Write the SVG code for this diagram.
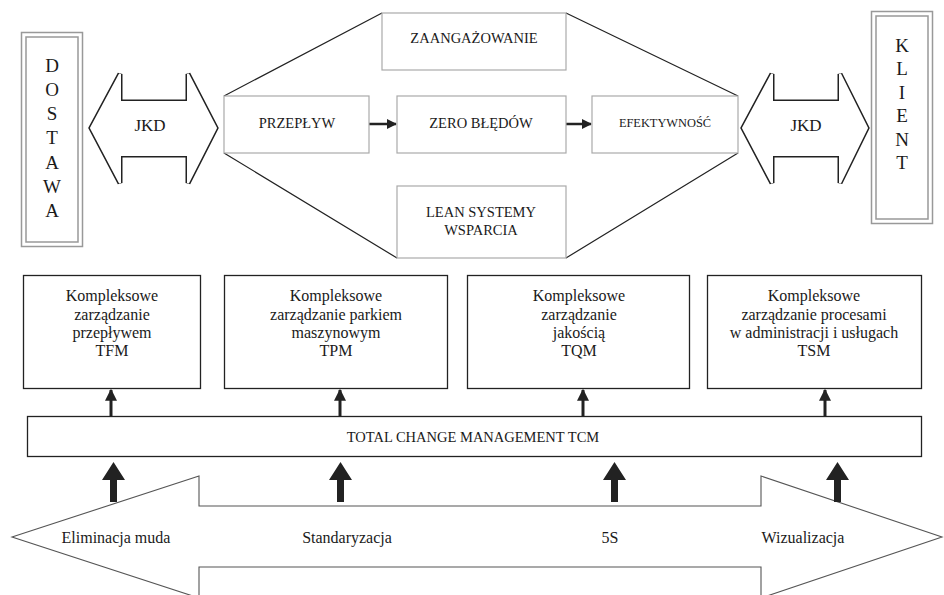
<svg xmlns="http://www.w3.org/2000/svg" width="944" height="595" viewBox="0 0 944 595" font-family="'Liberation Serif','Times New Roman',serif">
<defs>
<style>
text{font-family:"Liberation Serif","Times New Roman",serif;fill:#1a1a1a;text-anchor:middle;dominant-baseline:central}
.gb{fill:#fff;stroke:#aaa;stroke-width:1.2}
.bb{fill:#fff;stroke:#222;stroke-width:1.3}
.hex{fill:none;stroke:#222;stroke-width:1.2}
.dbl1{fill:none;stroke:#222;stroke-width:5;stroke-linejoin:miter}
.dbl2{fill:#fff;stroke:#fff;stroke-width:2;stroke-linejoin:miter}
.frame{fill:#fff;stroke:#999;stroke-width:1.5}
.big{fill:#fff;stroke:#555;stroke-width:1.1}
.cap{font-size:14.5px}
.lt{font-size:19px}
.bt{font-size:16px}
</style>
<marker id="ah" viewBox="0 0 10 10" refX="9" refY="5" markerWidth="4" markerHeight="4" orient="auto"><path d="M0,0 L10,5 L0,10 z" fill="#222"/></marker>
</defs>

<g id="dostawa">
<rect class="frame" x="21.5" y="32.5" width="61" height="214"/>
<rect class="frame" x="26" y="37" width="52" height="205"/>
<text class="lt" x="52" y="65">D</text>
<text class="lt" x="52" y="89">O</text>
<text class="lt" x="52" y="113">S</text>
<text class="lt" x="52" y="137">T</text>
<text class="lt" x="52" y="162">A</text>
<text class="lt" x="52" y="186">W</text>
<text class="lt" x="52" y="210">A</text>
</g>

<g id="klient">
<rect class="frame" x="871.5" y="11.5" width="61" height="212"/>
<rect class="frame" x="876" y="16" width="52" height="203"/>
<text class="lt" x="902" y="45">K</text>
<text class="lt" x="902" y="68.5">L</text>
<text class="lt" x="902" y="92">I</text>
<text class="lt" x="902" y="115.5">E</text>
<text class="lt" x="902" y="139">N</text>
<text class="lt" x="902" y="162.5">T</text>
</g>

<g id="jkd-left">
<path class="dbl1" d="M91,128 L120,74 L120,102 L188,102 L188,74 L216,128 L188,183 L188,155 L120,155 L120,183 Z"/>
<path class="dbl2" d="M91,128 L120,74 L120,102 L188,102 L188,74 L216,128 L188,183 L188,155 L120,155 L120,183 Z"/>
<text x="150" y="125" font-size="17">JKD</text>
</g>

<g id="jkd-right">
<path class="dbl1" d="M743,128 L772,74 L772,102 L840,102 L840,74 L867,128 L840,183 L840,155 L772,155 L772,183 Z"/>
<path class="dbl2" d="M743,128 L772,74 L772,102 L840,102 L840,74 L867,128 L840,183 L840,155 L772,155 L772,183 Z"/>
<text x="806" y="125" font-size="17">JKD</text>
</g>

<g id="connectors">
<path class="hex" d="M224,96 L382,13 M224,153 L397,258 M566,13 L738,96 M738,153 L566,258"/>
<line x1="369" y1="124" x2="396" y2="124" stroke="#222" stroke-width="2.5" marker-end="url(#ah)"/>
<line x1="566" y1="124" x2="591" y2="124" stroke="#222" stroke-width="2.5" marker-end="url(#ah)"/>
<g stroke="#222" stroke-width="3" marker-end="url(#ah)">
<line x1="111" y1="416" x2="111" y2="390"/>
<line x1="340" y1="416" x2="340" y2="390"/>
<line x1="583" y1="416" x2="583" y2="390"/>
<line x1="825" y1="416" x2="825" y2="390"/>
</g>
</g>

<g id="zaangazowanie">
<rect class="gb" x="382" y="13" width="184" height="57"/>
<text class="cap" x="474" y="38">ZAANGAŻOWANIE</text>
</g>
<g id="przeplyw">
<rect class="gb" x="224" y="96" width="145" height="57"/>
<text class="cap" x="297" y="123">PRZEPŁYW</text>
</g>
<g id="zero-bledow">
<rect class="gb" x="397" y="96" width="169" height="57"/>
<text class="cap" x="481" y="123">ZERO BŁĘDÓW</text>
</g>
<g id="efektywnosc">
<rect class="gb" x="592" y="96" width="146" height="57"/>
<text x="665" y="123" font-size="12.4">EFEKTYWNOŚĆ</text>
</g>
<g id="lean">
<rect class="gb" x="397" y="186" width="169" height="72"/>
<text class="cap" x="481" y="212">LEAN SYSTEMY</text>
<text class="cap" x="481" y="230">WSPARCIA</text>
</g>

<g id="tfm">
<rect class="bb" x="23.5" y="275.5" width="177" height="113"/>
<text class="bt" x="112" y="295">Kompleksowe</text>
<text class="bt" x="112" y="314">zarządzanie</text>
<text class="bt" x="112" y="332">przepływem</text>
<text class="bt" x="112" y="350">TFM</text>
</g>
<g id="tpm">
<rect class="bb" x="224.5" y="275.5" width="223" height="113"/>
<text class="bt" x="336" y="295">Kompleksowe</text>
<text class="bt" x="336" y="314">zarządzanie parkiem</text>
<text class="bt" x="336" y="332">maszynowym</text>
<text class="bt" x="336" y="350">TPM</text>
</g>
<g id="tqm">
<rect class="bb" x="467.5" y="275.5" width="222" height="113"/>
<text class="bt" x="579" y="295">Kompleksowe</text>
<text class="bt" x="579" y="314">zarządzanie</text>
<text class="bt" x="579" y="332">jakością</text>
<text class="bt" x="579" y="350">TQM</text>
</g>
<g id="tsm">
<rect class="bb" x="707.5" y="275.5" width="214" height="113"/>
<text class="bt" x="814" y="295">Kompleksowe</text>
<text class="bt" x="814" y="314">zarządzanie procesami</text>
<text class="bt" x="814" y="332">w administracji i usługach</text>
<text class="bt" x="814" y="350">TSM</text>
</g>

<g id="tcm">
<rect class="bb" x="27.5" y="416.5" width="894" height="40"/>
<text x="473" y="437" font-size="14.5">TOTAL CHANGE MANAGEMENT TCM</text>
</g>

<g id="base-arrow">
<path class="big" d="M12,537 L199,476 L199,506 L761,506 L761,476 L942,537 L761,598 L761,567 L199,567 L199,598 Z"/>
<text class="bt" x="116" y="537">Eliminacja muda</text>
<text class="bt" x="347" y="537">Standaryzacja</text>
<text class="bt" x="610" y="537">5S</text>
<text class="bt" x="803" y="537">Wizualizacja</text>
</g>

<g id="up-arrows" fill="#222">
<path d="M110,502 L110,480 L102,480 L113.5,462 L125,480 L117,480 L117,502 Z"/>
<path d="M337,502 L337,480 L329,480 L340.5,462 L352,480 L344,480 L344,502 Z"/>
<path d="M611,502 L611,480 L603,480 L614.5,462 L626,480 L618,480 L618,502 Z"/>
<path d="M834,502 L834,480 L826,480 L837.5,462 L849,480 L841,480 L841,502 Z"/>
</g>
</svg>
